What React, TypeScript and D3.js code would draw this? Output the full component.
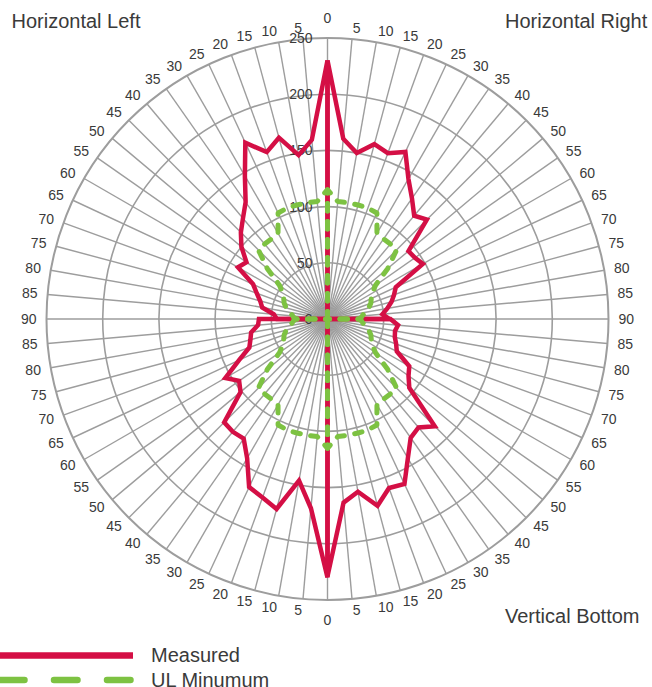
import React from "react";
import * as d3 from "d3";

// Angle ticks of one quadrant (degrees from the vertical axis)
const quadrantTicks = [0, 5, 10, 15, 20, 25, 30, 35, 40, 45, 50, 55, 60, 65, 70, 75, 80, 85, 90];

// Category labels around the dial, clockwise from the top
const categoryLabels = [
  ...quadrantTicks,
  ...quadrantTicks.slice(0, -1).reverse(),
  ...quadrantTicks.slice(1),
  ...quadrantTicks.slice(1, -1).reverse(),
].map(String);

// Radial axis
const radialTicks = [0, 50, 100, 150, 200, 250];
const radialMax = 250;

// Measured values per quadrant, indexed by quadrantTicks
const measuredTopRight = [230, 161, 150, 161, 157, 164, 144, 131, 120, 125, 94, 95, 98, 67, 63, 59, 54, 49, 55];
const measuredBottomRight = [229, 164, 156, 172, 160, 162, 143, 129, 126, 135, 95, 88, 84, 68, 65, 62, 61, 63, 56];
const measuredBottomLeft = [230, 169, 146, 175, 169, 165, 143, 130, 131, 130, 101, 96, 105, 87, 74, 71, 69, 62, 61];
const measuredTopLeft = [230, 160, 148, 167, 158, 173, 147, 127, 117, 109, 100, 88, 92, 73, 67, 62, 59, 48, 45];

// UL minimum per quadrant tick
const ulMinimum = [115, 105, 105, 105, 105, 104, 88, 87, 87, 87, 70, 52, 46, 43, 41, 38, 34, 31, 29];

const cornerTitles = ["Horizontal Left", "Horizontal Right", "Vertical Bottom"];
const seriesNames = ["Measured", "UL Minumum"];

const W = 652;
const H = 687;
const CX = 327.5;
const CY = 319;
const R = 281;
const RED = "#d40f45";
const GREEN = "#7dc242";
const GRID = "#9d9d9d";
const TEXT = "#3a3a3a";
const FONT = "'Liberation Sans', Arial, Helvetica, sans-serif";

// quadrant -> angle (deg, clockwise from top) of a tick
const quadrantAngle = [
  (t: number) => t,
  (t: number) => 180 - t,
  (t: number) => 180 + t,
  (t: number) => 360 - t,
];

export default function App() {
  const r = d3.scaleLinear().domain([0, radialMax]).range([0, R]);
  const toRad = (deg: number) => (deg * Math.PI) / 180;

  const radial = d3
    .lineRadial<{ a: number; v: number }>()
    .angle((d) => toRad(d.a))
    .radius((d) => r(d.v))
    .curve(d3.curveLinear);

  const quadPath = (values: number[], q: number) => {
    const pts = [
      { a: quadrantAngle[q](0), v: 0 },
      ...values.map((v, i) => ({ a: quadrantAngle[q](quadrantTicks[i]), v })),
      { a: quadrantAngle[q](90), v: 0 },
    ];
    return radial(pts) as string;
  };

  const measured = [measuredTopRight, measuredBottomRight, measuredBottomLeft, measuredTopLeft];

  const spokeAngles = categoryLabels.map((_, i) => i * 5);

  return (
    <svg
      width={W}
      height={H}
      style={{ position: "absolute", left: 0, top: 0, background: "#fff" }}
      fontFamily={FONT}
    >
      <g transform={`translate(${CX},${CY})`}>
        {/* spokes */}
        {spokeAngles.map((a, i) => (
          <line
            key={"s" + i}
            x1={0}
            y1={0}
            x2={R * Math.sin(toRad(a))}
            y2={-R * Math.cos(toRad(a))}
            stroke={GRID}
            strokeWidth={1.4}
          />
        ))}
        {/* rings */}
        {radialTicks.filter((t) => t > 0).map((t) => (
          <circle key={"c" + t} r={r(t)} fill="none" stroke={GRID} strokeWidth={t === radialMax ? 2 : 1.6} />
        ))}
        {/* radial value labels */}
        {radialTicks.map((t) => (
          <text
            key={"v" + t}
            x={-15}
            y={-r(t)}
            dy="0.35em"
            textAnchor="end"
            fontSize={14}
            fill={TEXT}
          >
            {t}
          </text>
        ))}
        {/* category labels */}
        {categoryLabels.map((lab, i) => {
          const a = spokeAngles[i];
          const rr = R + 10;
          const px = rr * Math.sin(toRad(a));
          const py = -rr * Math.cos(toRad(a));
          let anchor: "start" | "end" | "middle" = "middle";
          let y = py - 1.5 * Math.cos(toRad(a));
          if (a === 0) {
            y = py - 10;
          } else if (a === 180) {
            y = py + 10;
          } else if (a < 180) {
            anchor = "start";
          } else {
            anchor = "end";
          }
          return (
            <text
              key={"l" + i}
              x={px}
              y={y}
              dy="0.35em"
              textAnchor={anchor}
              fontSize={14}
              fill={TEXT}
            >
              {lab}
            </text>
          );
        })}
        {/* measured */}
        {measured.map((vals, q) => (
          <path
            key={"m" + q}
            d={quadPath(vals, q)}
            fill="none"
            stroke={RED}
            strokeWidth={4.5}
            strokeLinejoin="miter"
          />
        ))}
        {/* UL minimum */}
        {[0, 1, 2, 3].map((q) => (
          <path
            key={"u" + q}
            d={quadPath(ulMinimum, q)}
            fill="none"
            stroke={GREEN}
            strokeWidth={5}
            strokeDasharray="7.5 10.5"
            strokeLinecap="round"
            strokeLinejoin="round"
          />
        ))}
      </g>

      {/* corner titles */}
      <text x={11.5} y={21} dy="0.35em" fontSize={20} fill={TEXT}>
        {cornerTitles[0]}
      </text>
      <text x={505} y={21} dy="0.35em" fontSize={20} fill={TEXT}>
        {cornerTitles[1]}
      </text>
      <text x={505} y={616} dy="0.35em" fontSize={20} fill={TEXT}>
        {cornerTitles[2]}
      </text>

      {/* legend */}
      <line x1={-2} x2={133} y1={655.5} y2={655.5} stroke={RED} strokeWidth={6.5} />
      <text x={151} y={655} dy="0.35em" fontSize={20} fill={TEXT}>
        {seriesNames[0]}
      </text>
      <line
        x1={-2}
        x2={135}
        y1={680}
        y2={680}
        stroke={GREEN}
        strokeWidth={6.5}
        strokeDasharray="23.5 29.5"
        strokeLinecap="round"
        strokeDashoffset={-3}
      />
      <text x={151} y={680} dy="0.35em" fontSize={20} fill={TEXT}>
        {seriesNames[1]}
      </text>
    </svg>
  );
}
